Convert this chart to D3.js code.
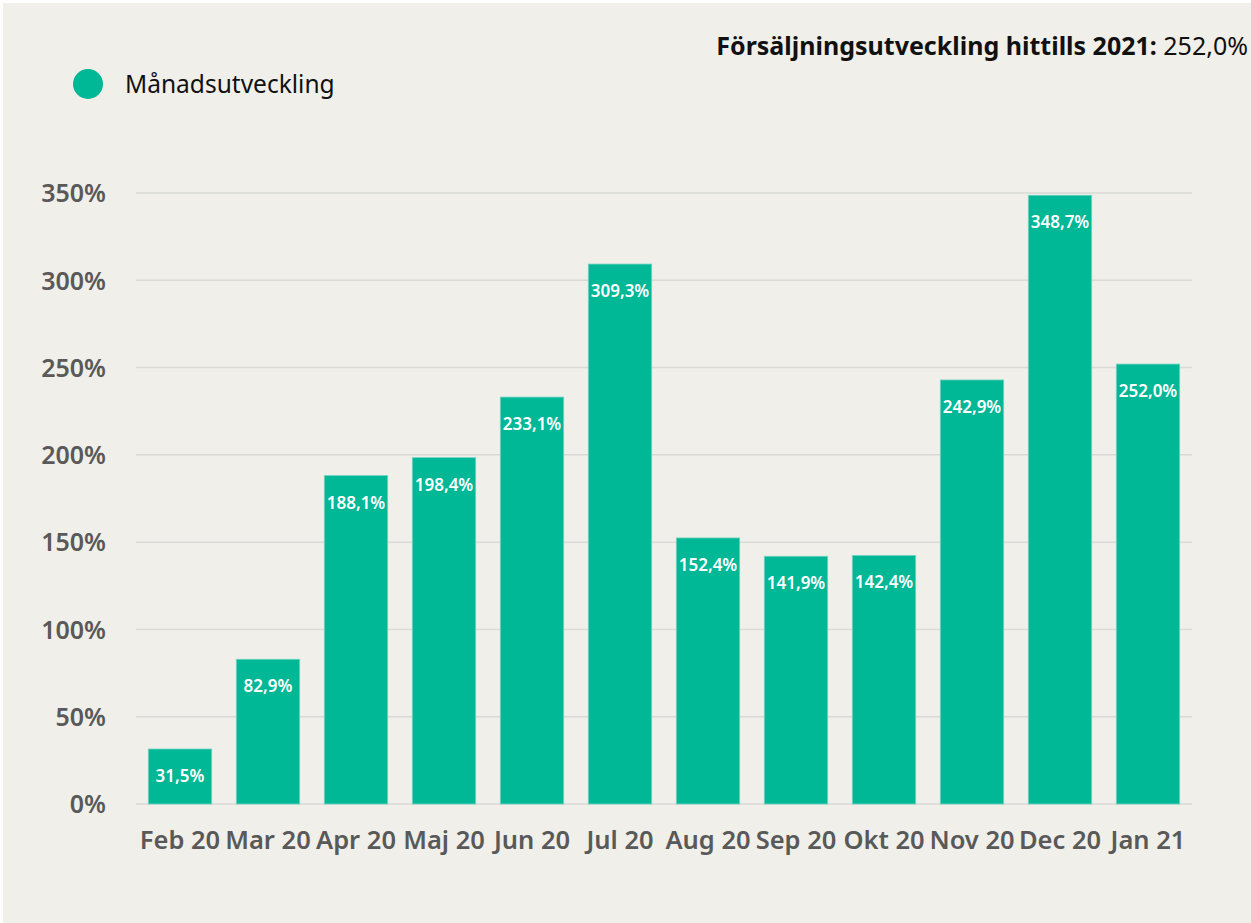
<!DOCTYPE html>
<html>
<head>
<meta charset="utf-8">
<script src="https://cdn.jsdelivr.net/npm/d3@7"></script>
<style>
  html, body { margin: 0; padding: 0; background: #fff; }
  svg { display: block; }
  svg text { font-family: "Noto Sans", "Open Sans", sans-serif; }
</style>
</head>
<body>
<div id="chart"></div>
<script>
const months = ['Feb 20', 'Mar 20', 'Apr 20', 'Maj 20', 'Jun 20', 'Jul 20', 'Aug 20', 'Sep 20', 'Okt 20', 'Nov 20', 'Dec 20', 'Jan 21'];
const growth = [31.5, 82.9, 188.1, 198.4, 233.1, 309.3, 152.4, 141.9, 142.4, 242.9, 348.7, 252.0];
const yTicks = [0, 50, 100, 150, 200, 250, 300, 350];

const width = 1251;
const height = 923;
const margin = { top: 193, right: 59, bottom: 119, left: 136 };
const barColor = '#00b796';
const textGrey = '#595959';

const fmt = v => v.toFixed(1).replace('.', ',') + '%';

const svg = d3.select('#chart')
  .append('svg')
  .attr('width', width)
  .attr('height', height);

// background panel
svg.append('rect')
  .attr('x', 3).attr('y', 3)
  .attr('width', width - 3).attr('height', height - 3)
  .attr('fill', '#f0efea');

const x = d3.scaleBand()
  .domain(months)
  .range([margin.left, width - margin.right])
  .paddingInner(0.28)
  .paddingOuter(0.14);

const y = d3.scaleLinear()
  .domain([0, 350])
  .range([height - margin.bottom, margin.top]);

// gridlines
svg.append('g')
  .selectAll('line')
  .data(yTicks)
  .enter()
  .append('line')
  .attr('x1', margin.left)
  .attr('x2', width - margin.right)
  .attr('y1', d => y(d))
  .attr('y2', d => y(d))
  .attr('stroke', '#d9d9d6')
  .attr('stroke-width', 1.5);

// y axis labels
const yAxis = svg.append('g')
  .attr('transform', `translate(${margin.left}, 0)`)
  .call(d3.axisLeft(y).tickValues(yTicks).tickSize(0).tickPadding(30).tickFormat(d => d + '%'));
yAxis.attr('font-family', null);
yAxis.select('.domain').remove();
yAxis.selectAll('text')
  .attr('fill', textGrey)
  .attr('font-size', 25)
  .attr('font-weight', 600)
  .attr('dy', '0.35em');

// x axis labels
const xAxis = svg.append('g')
  .attr('transform', `translate(0, ${height - margin.bottom})`)
  .call(d3.axisBottom(x).tickSize(0).tickPadding(27));
xAxis.attr('font-family', null);
xAxis.select('.domain').remove();
xAxis.selectAll('text')
  .attr('fill', textGrey)
  .attr('font-size', 25.5)
  .attr('font-weight', 600);

// bars
svg.append('g')
  .selectAll('rect')
  .data(growth)
  .enter()
  .append('rect')
  .attr('x', (d, i) => x(months[i]))
  .attr('y', d => y(d))
  .attr('width', x.bandwidth())
  .attr('height', d => y(0) - y(d))
  .attr('fill', barColor)
  .attr('stroke', '#6fd3c0')
  .attr('stroke-width', 0.8);

// value labels
svg.append('g')
  .selectAll('text')
  .data(growth)
  .enter()
  .append('text')
  .attr('x', (d, i) => x(months[i]) + x.bandwidth() / 2)
  .attr('y', d => y(d) + 33)
  .attr('text-anchor', 'middle')
  .attr('fill', '#fff')
  .attr('font-size', 17)
  .attr('font-weight', 600)
  .text(fmt);

// title
const title = svg.append('text')
  .attr('x', 1248)
  .attr('y', 55)
  .attr('text-anchor', 'end')
  .attr('font-size', 25)
  .attr('fill', '#111');
title.append('tspan').attr('font-weight', 700).text('Försäljningsutveckling hittills 2021:');
title.append('tspan').attr('font-weight', 400).text(' ' + fmt(growth[growth.length - 1]));

// legend
svg.append('circle')
  .attr('cx', 88).attr('cy', 84).attr('r', 15)
  .attr('fill', barColor);
svg.append('text')
  .attr('x', 125).attr('y', 84)
  .attr('dy', '0.35em')
  .attr('font-size', 24.5)
  .attr('fill', '#111')
  .text('Månadsutveckling');
</script>
</body>
</html>
